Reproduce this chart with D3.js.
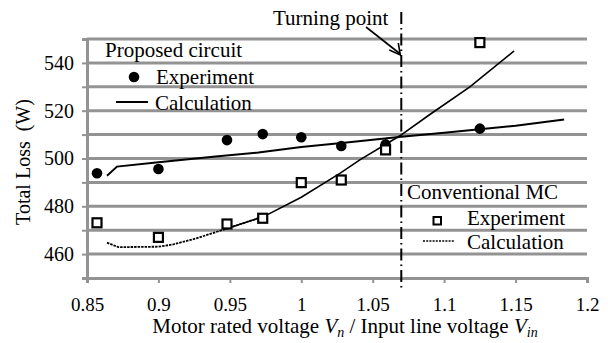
<!DOCTYPE html>
<html>
<head>
<meta charset="utf-8">
<script src="https://cdn.jsdelivr.net/npm/d3@7"></script>
<style>
  body { margin: 0; background: #fff; }
</style>
</head>
<body>
<svg id="chart" width="608" height="343"></svg>
<script>
// voltage ratio (Vn / Vin) of the measured points
const expX = [0.857, 0.9, 0.948, 0.973, 1.0, 1.028, 1.059, 1.125];
// proposed circuit, experiment
const propExp = [493.8, 495.6, 507.7, 510.2, 508.9, 505.2, 505.9, 512.5];
// conventional MC, experiment
const convExp = [473.1, 467.0, 472.6, 475.0, 489.9, 491.0, 503.6, 548.5];

// calculation curves
const propCalcX = [0.864, 0.871, 0.9, 0.94, 0.97, 1.0, 1.03, 1.07, 1.1, 1.125, 1.15, 1.184];
const propCalcY = [492.8, 496.6, 498.4, 500.8, 502.5, 504.8, 506.6, 509.1, 510.8, 512.2, 513.7, 516.3];
const convCalcX = [0.864, 0.872, 0.9, 0.91, 0.926, 0.947, 0.974, 1.0, 1.027, 1.041, 1.069, 1.09, 1.118, 1.149];
const convCalcY = [464.8, 462.9, 463.1, 464.0, 466.5, 470.5, 475.8, 483.8, 493.8, 499.4, 509.5, 518.4, 530.0, 545.0];

const turningPoint = 1.07;

const xTicks = [0.85, 0.9, 0.95, 1.0, 1.05, 1.1, 1.15, 1.2];
const xTickLabels = ["0.85", "0.9", "0.95", "1", "1.05", "1.1", "1.15", "1.2"];
const yGrid = [460, 470, 480, 490, 500, 510, 520, 530, 540, 550];
const yTicks = [460, 480, 500, 520, 540];

const FONT = "'Liberation Serif', 'DejaVu Serif', serif";
const svg = d3.select("#chart").style("font-family", FONT);
const grey = "#939393";

const x = d3.scaleLinear().domain([0.85, 1.2]).range([87, 587]);
const y = d3.scaleLinear().domain([450, 550]).range([278, 39]);

function label(sel, size = 21) {
  return sel.style("font-family", FONT).style("font-size", size + "px").attr("fill", "#000");
}

// grid lines
svg.append("g")
  .selectAll("line")
  .data(yGrid)
  .join("line")
  .attr("x1", x(0.85)).attr("x2", x(1.2))
  .attr("y1", d => y(d)).attr("y2", d => y(d))
  .attr("stroke", grey).attr("stroke-width", 3);

// x axis
const xAxis = svg.append("g")
  .attr("transform", `translate(0,${y(450)})`)
  .call(d3.axisBottom(x).tickValues(xTicks).tickFormat((d, i) => xTickLabels[i]).tickSize(5).tickPadding(15));
xAxis.attr("font-family", null);
xAxis.select(".domain").attr("stroke", grey).attr("stroke-width", 3);
xAxis.selectAll(".tick line").attr("stroke", grey).attr("stroke-width", 2);
xAxis.selectAll(".tick text").call(label, 19);

// y axis
const yAxis = svg.append("g")
  .attr("transform", `translate(${x(0.85)},0)`)
  .call(d3.axisLeft(y).tickValues(yGrid.concat([450])).tickFormat(d => yTicks.includes(d) ? d : "").tickSize(5).tickPadding(8));
yAxis.attr("font-family", null);
yAxis.select(".domain").attr("stroke", grey).attr("stroke-width", 3);
yAxis.selectAll(".tick line").attr("stroke", grey).attr("stroke-width", 2);
yAxis.selectAll(".tick text").call(label, 20);

// axis titles
svg.append("text")
  .attr("transform", "translate(30,162) rotate(-90)")
  .attr("text-anchor", "middle")
  .attr("xml:space", "preserve")
  .call(label, 20)
  .text("Total Loss  (W)");

const xt = svg.append("text")
  .attr("x", 345).attr("y", 333)
  .attr("text-anchor", "middle")
  .call(label, 21);
xt.append("tspan").text("Motor rated voltage ");
xt.append("tspan").style("font-style", "italic").text("V");
xt.append("tspan").style("font-style", "italic").style("font-size", "14px").attr("dy", 4).text("n");
xt.append("tspan").attr("dy", -4).text(" / Input line voltage ");
xt.append("tspan").style("font-style", "italic").text("V");
xt.append("tspan").style("font-style", "italic").style("font-size", "14px").attr("dy", 4).text("in");

// turning point
svg.append("line")
  .attr("x1", x(turningPoint)).attr("x2", x(turningPoint))
  .attr("y1", 12).attr("y2", 288)
  .attr("stroke", "#000").attr("stroke-width", 2)
  .attr("stroke-dasharray", "12,4,1.5,4");

svg.append("text")
  .attr("x", 273).attr("y", 25)
  .call(label, 21)
  .text("Turning point");

svg.append("line")
  .attr("x1", 366).attr("y1", 27)
  .attr("x2", x(turningPoint) - 1).attr("y2", 54)
  .attr("stroke", "#000").attr("stroke-width", 1.6);
svg.append("path")
  .attr("d", `M${x(turningPoint) - 12},${50} L${x(turningPoint) - 1},${55} L${x(turningPoint) - 3},${43}`)
  .attr("fill", "none").attr("stroke", "#000").attr("stroke-width", 1.6);

// calculation lines
const line = d3.line().x(d => x(d[0])).y(d => y(d[1]));
const propCalc = propCalcX.map((v, i) => [v, propCalcY[i]]);
const convCalc = convCalcX.map((v, i) => [v, convCalcY[i]]);

svg.append("path")
  .datum(propCalc)
  .attr("d", line)
  .attr("fill", "none").attr("stroke", "#000").attr("stroke-width", 2);

// lower part of the conventional curve renders dotted, the steep part solid
svg.append("path")
  .datum(convCalc.filter(d => d[0] <= 0.974))
  .attr("d", line)
  .attr("fill", "none").attr("stroke", "#000").attr("stroke-width", 1.8)
  .attr("stroke-dasharray", "2.5,1");
svg.append("path")
  .datum(convCalc.filter(d => d[0] >= 0.947))
  .attr("d", line)
  .attr("fill", "none").attr("stroke", "#000").attr("stroke-width", 1.6);

// experiment markers
svg.append("g")
  .selectAll("circle")
  .data(expX.map((v, i) => [v, propExp[i]]))
  .join("circle")
  .attr("cx", d => x(d[0])).attr("cy", d => y(d[1]))
  .attr("r", 5.3)
  .attr("fill", "#000");

svg.append("g")
  .selectAll("rect")
  .data(expX.map((v, i) => [v, convExp[i]]))
  .join("rect")
  .attr("x", d => x(d[0]) - 4.5).attr("y", d => y(d[1]) - 4.5)
  .attr("width", 9).attr("height", 9)
  .attr("fill", "#fff").attr("stroke", "#000").attr("stroke-width", 2.2);

// legends
const leg1 = svg.append("g");
leg1.append("text").attr("x", 105).attr("y", 57).call(label).text("Proposed circuit");
leg1.append("circle").attr("cx", 134).attr("cy", 77).attr("r", 5.3).attr("fill", "#000");
leg1.append("text").attr("x", 156).attr("y", 84).call(label).text("Experiment");
leg1.append("line").attr("x1", 116).attr("x2", 148).attr("y1", 102).attr("y2", 102)
  .attr("stroke", "#000").attr("stroke-width", 2);
leg1.append("text").attr("x", 155).attr("y", 110).call(label).text("Calculation");

const leg2 = svg.append("g");
leg2.append("text").attr("x", 407).attr("y", 199).call(label).text("Conventional MC");
leg2.append("rect").attr("x", 433.5).attr("y", 217).attr("width", 7.5).attr("height", 7.5)
  .attr("fill", "#fff").attr("stroke", "#000").attr("stroke-width", 2);
leg2.append("text").attr("x", 467).attr("y", 225).call(label).text("Experiment");
leg2.append("line").attr("x1", 423).attr("x2", 455).attr("y1", 241).attr("y2", 241)
  .attr("stroke", "#000").attr("stroke-width", 1.5).attr("stroke-dasharray", "2,1.2");
leg2.append("text").attr("x", 467).attr("y", 249).call(label).text("Calculation");
</script>
</body>
</html>
